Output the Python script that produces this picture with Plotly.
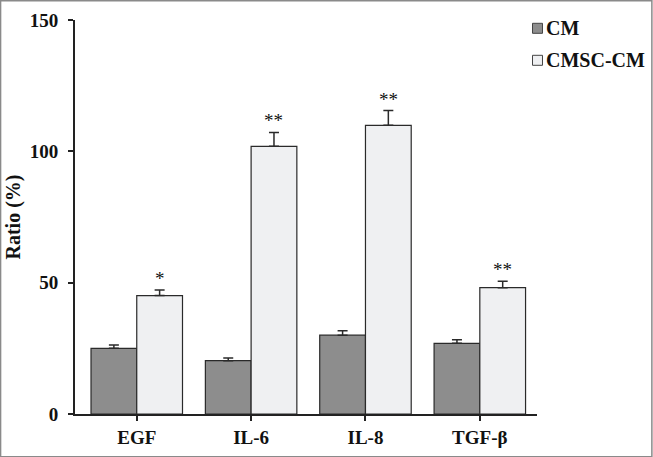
import plotly.graph_objects as go

categories = ["EGF", "IL-6", "IL-8", "TGF-β"]
series_names = ["CM", "CMSC-CM"]
cm_values = [25.0, 20.3, 30.0, 26.9]
cm_err = [1.3, 1.0, 1.7, 1.4]
cmsc_values = [45.1, 101.9, 109.9, 48.1]
cmsc_err = [2.1, 5.3, 5.6, 2.4]
significance = ["*", "**", "**", "**"]
y_ticks = [0, 50, 100, 150]

FONT = "Liberation Serif"
INK = "#111111"
EDGE = "#2a2a2a"
fills = ["#8d8d8d", "#eff0f2"]
x_idx = list(range(len(categories)))

fig = go.Figure()
for name, vals, errs, fill in zip(series_names, [cm_values, cmsc_values],
                                  [cm_err, cmsc_err], fills):
    fig.add_trace(go.Bar(
        name=name, x=x_idx, y=vals, showlegend=False,
        marker=dict(color=fill, line=dict(color=EDGE, width=1.2)),
        error_y=dict(type="data", array=errs, symmetric=False,
                     arrayminus=[0] * len(errs),
                     color=EDGE, thickness=1.5, width=5),
    ))

bar_w = 0.4
for i, (v, e, s) in enumerate(zip(cmsc_values, cmsc_err, significance)):
    fig.add_annotation(x=i + bar_w / 2, y=v + e, text=s, showarrow=False,
                       yanchor="bottom", yshift=-1,
                       font=dict(family=FONT, size=19, color=INK))

# Plot area in pixels: left 75, right 537.5, top 19.7, bottom 413.7
W, H = 653, 457
L, R, T, B = 75, 115.5, 19.7, 43.3
pw, ph = W - L - R, H - T - B


def px_x(x):
    return (x - L) / pw


def px_y(y):
    return (H - B - y) / ph


# manual legend (small squares + bold labels)
for k, (name, fill) in enumerate(zip(series_names, fills)):
    cy = 28 + 32 * k
    fig.add_shape(type="rect", xref="paper", yref="paper",
                  x0=px_x(533), x1=px_x(543), y0=px_y(cy + 5), y1=px_y(cy - 5),
                  fillcolor=fill, line=dict(color="#444", width=1))
    fig.add_annotation(xref="paper", yref="paper", x=px_x(545), y=px_y(cy),
                       text="<b>%s</b>" % name, showarrow=False,
                       xanchor="left", yanchor="middle",
                       font=dict(family=FONT, size=20, color=INK))

fig.update_layout(
    width=W, height=H,
    margin=dict(l=L, r=R, t=T, b=B),
    paper_bgcolor="white", plot_bgcolor="white",
    barmode="group", bargap=0.2, bargroupgap=0,
    font=dict(family=FONT, size=18, color=INK),
    showlegend=False,
    xaxis=dict(
        tickmode="array", tickvals=x_idx,
        ticktext=["<b>%s</b>" % c for c in categories],
        range=[-0.54, 3.5], showline=True, linecolor="#222", linewidth=2,
        ticks="outside", ticklen=5, tickcolor="#222", tickwidth=1.5,
        showgrid=False, zeroline=False, automargin=False,
        tickfont=dict(family=FONT, size=19, color=INK),
    ),
    yaxis=dict(
        range=[0, 150], tickvals=y_ticks,
        ticktext=["<b>%d</b>" % t for t in y_ticks],
        showline=True, linecolor="#222", linewidth=2,
        ticks="outside", ticklen=5, tickcolor="#222", tickwidth=1.5,
        ticklabelstandoff=6,
        showgrid=False, zeroline=False, automargin=False,
        tickfont=dict(family=FONT, size=19, color=INK),
        title=dict(text="<b>Ratio (%)</b>", standoff=4,
                   font=dict(family=FONT, size=20, color=INK)),
    ),
)

# outer frame of the picture
fig.add_shape(type="rect", xref="paper", yref="paper",
              x0=px_x(0.5), x1=px_x(W - 0.5), y0=px_y(H - 0.5), y1=px_y(0.5),
              line=dict(color="#8a8a8a", width=1.5), fillcolor="rgba(0,0,0,0)")

fig.write_html("out.html", config={"displayModeBar": False},
               post_script="document.body.style.margin='0';")
